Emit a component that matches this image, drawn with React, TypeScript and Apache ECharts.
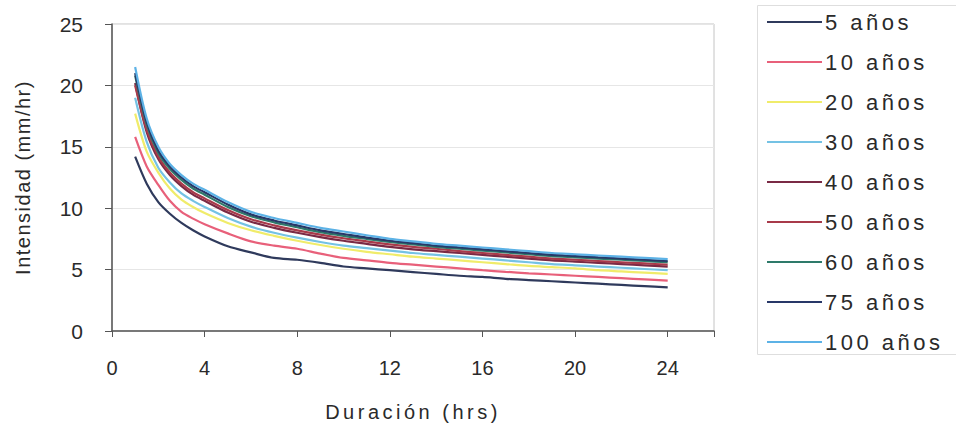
import React, { useEffect, useRef } from "react";
import * as echarts from "echarts";

const durations = [1, 1.5, 2, 2.5, 3, 3.5, 4, 5, 6, 7, 8, 9, 10, 11, 12, 13, 14, 15, 16, 17, 18, 19, 20, 21, 22, 23, 24];

const seriesNames = ["5 años", "10 años", "20 años", "30 años", "40 años", "50 años", "60 años", "75 años", "100 años"];

const y5 = [14.2, 12.0, 10.5, 9.55, 8.8, 8.2, 7.7, 6.9, 6.4, 5.95, 5.8, 5.55, 5.25, 5.1, 4.95, 4.8, 4.65, 4.5, 4.4, 4.25, 4.15, 4.05, 3.95, 3.85, 3.75, 3.65, 3.55];
const y10 = [15.8, 13.4, 11.9, 10.6, 9.7, 9.15, 8.7, 7.95, 7.3, 6.95, 6.7, 6.3, 5.95, 5.75, 5.55, 5.4, 5.25, 5.1, 4.95, 4.82, 4.7, 4.6, 4.5, 4.4, 4.3, 4.2, 4.1];
const y20 = [17.7, 14.6, 12.9, 11.6, 10.7, 10.1, 9.6, 8.8, 8.2, 7.75, 7.35, 7.0, 6.7, 6.45, 6.25, 6.05, 5.9, 5.75, 5.6, 5.45, 5.3, 5.2, 5.1, 4.95, 4.85, 4.75, 4.65];
const y30 = [19.0, 15.4, 13.3, 12.1, 11.2, 10.6, 10.1, 9.2, 8.5, 8.0, 7.6, 7.25, 6.95, 6.75, 6.55, 6.35, 6.2, 6.05, 5.9, 5.75, 5.6, 5.45, 5.35, 5.25, 5.15, 5.05, 4.95];
const y40 = [20.2, 16.2, 14.0, 12.7, 11.8, 11.1, 10.6, 9.65, 8.9, 8.4, 8.0, 7.65, 7.35, 7.1, 6.85, 6.65, 6.5, 6.35, 6.2, 6.05, 5.9, 5.75, 5.65, 5.55, 5.45, 5.35, 5.25];
const y50 = [20.0, 16.4, 14.2, 12.9, 12.0, 11.3, 10.8, 9.85, 9.1, 8.6, 8.2, 7.85, 7.55, 7.3, 7.05, 6.85, 6.7, 6.5, 6.35, 6.2, 6.05, 5.9, 5.8, 5.7, 5.6, 5.5, 5.4];
const y60 = [20.8, 16.8, 14.5, 13.2, 12.3, 11.6, 11.1, 10.1, 9.35, 8.85, 8.45, 8.05, 7.75, 7.5, 7.25, 7.05, 6.85, 6.7, 6.55, 6.4, 6.25, 6.1, 6.0, 5.9, 5.8, 5.7, 5.6];
const y75 = [21.0, 17.0, 14.7, 13.4, 12.5, 11.8, 11.3, 10.3, 9.5, 9.0, 8.6, 8.2, 7.9, 7.6, 7.35, 7.15, 6.95, 6.8, 6.65, 6.5, 6.35, 6.2, 6.1, 6.0, 5.9, 5.8, 5.7];
const y100 = [21.5, 17.3, 15.0, 13.6, 12.7, 12.0, 11.5, 10.5, 9.7, 9.2, 8.8, 8.4, 8.1, 7.8, 7.5, 7.3, 7.1, 6.95, 6.8, 6.65, 6.5, 6.35, 6.25, 6.15, 6.05, 5.95, 5.85];

const seriesValues = [y5, y10, y20, y30, y40, y50, y60, y75, y100];
const colors = ["#2f3a5c", "#e8607a", "#f0ec6a", "#74c2e4", "#7a2a45", "#a83a4a", "#2e7a6a", "#283868", "#5cb2e6"];

const xTicks = [0, 4, 8, 12, 16, 20, 24];
const xTitle = "Duración (hrs)";
const yTitle = "Intensidad (mm/hr)";

export default function App() {
  const ref = useRef<HTMLDivElement>(null);
  useEffect(() => {
    if (!ref.current) return;
    const el = ref.current;
    const chart = echarts.init(el, null, { renderer: "svg" });
    const font = "Liberation Sans, Arial, sans-serif";
    const spacing = () => {
      el.querySelectorAll("text").forEach((t) => {
        const s = (t.textContent || "").trim();
        if (seriesNames.includes(s)) t.setAttribute("letter-spacing", "3.5px");
        else if (s === xTitle) t.setAttribute("letter-spacing", "3.5px");
        else if (s === yTitle) t.setAttribute("letter-spacing", "1.5px");
      });
    };
    chart.on("finished", spacing);
    chart.setOption({
      animation: false,
      backgroundColor: "#ffffff",
      textStyle: { fontFamily: font },
      grid: {
        left: 112,
        right: 242,
        top: 24,
        bottom: 98,
        show: true,
        borderColor: "#c4c4c4",
        borderWidth: 1,
      },
      graphic: [
        {
          type: "rect",
          left: 755,
          top: 3,
          shape: { width: 200, height: 349 },
          style: { fill: "none", stroke: "#dedede", lineWidth: 1 },
          z: 0,
        },
      ],
      legend: {
        orient: "vertical",
        left: 755,
        top: 3,
        padding: [8, 20, 0, 12],
        itemWidth: 55,
        itemHeight: 2,
        itemGap: 18,
        icon: "rect",
        textStyle: { fontSize: 22, color: "#2a2a2a", lineHeight: 22, fontFamily: font, padding: [0, 0, 0, -2] },
        data: seriesNames,
      },
      xAxis: {
        type: "value",
        min: 0,
        max: 26,
        interval: 4,
        name: xTitle,
        nameLocation: "middle",
        nameGap: 71,
        nameTextStyle: { fontSize: 20, color: "#2a2a2a", fontFamily: font },
        axisLine: { show: true, lineStyle: { color: "#555555", width: 1.5 } },
        axisTick: { show: true, length: 6, lineStyle: { color: "#555555" } },
        axisLabel: {
          fontSize: 20,
          color: "#2a2a2a",
          margin: 27,
          formatter: (v: number) => (xTicks.includes(v) ? String(v) : ""),
        },
        splitLine: { show: false },
      },
      yAxis: {
        type: "value",
        min: 0,
        max: 25,
        interval: 5,
        name: yTitle,
        nameLocation: "middle",
        nameGap: 79,
        nameTextStyle: { fontSize: 20, color: "#2a2a2a", fontFamily: font },
        axisLine: { show: true, lineStyle: { color: "#555555", width: 1.5 } },
        axisTick: { show: true, length: 7, lineStyle: { color: "#555555" } },
        axisLabel: { fontSize: 21, color: "#2a2a2a", margin: 29 },
        splitLine: { show: true, lineStyle: { color: "#e6e6e6", width: 1 } },
      },
      series: seriesNames.map((name, i) => ({
        name,
        type: "line",
        data: durations.map((d, j) => [d, seriesValues[i][j]]),
        showSymbol: false,
        smooth: 0.3,
        lineStyle: { color: colors[i], width: 2.2 },
        itemStyle: { color: colors[i] },
      })),
    });
    spacing();
    return () => chart.dispose();
  }, []);
  return <div ref={ref} style={{ position: "absolute", left: 0, top: 0, width: 956, height: 429 }} />;
}
